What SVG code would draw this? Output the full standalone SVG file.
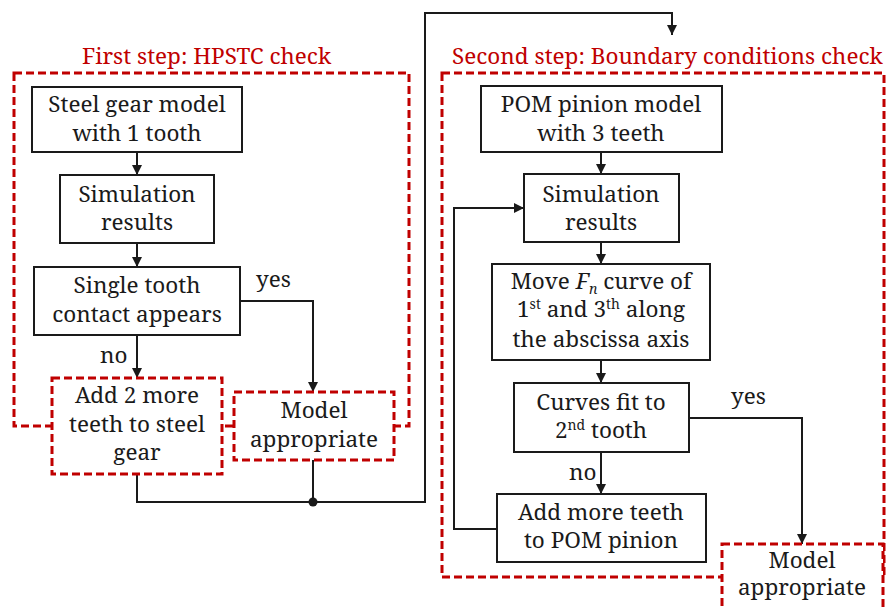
<svg xmlns="http://www.w3.org/2000/svg" width="886" height="610" viewBox="0 0 886 610" font-family="Noto Serif, Liberation Serif, serif" font-size="22.5">
<style>
text{fill:#1a1a1a;text-anchor:middle}
.title{fill:#c00000;text-anchor:start}
.lbl{text-anchor:start}
.box{fill:#fff;stroke:#1a1a1a;stroke-width:2}
.rbox{fill:#fff;stroke:#c00000;stroke-width:3;stroke-dasharray:8,4}
.frame{fill:none;stroke:#c00000;stroke-width:3;stroke-dasharray:8,4}
.ln{fill:none;stroke:#1a1a1a;stroke-width:2}
.sup{font-size:14px}
</style>
<defs>
<marker id="ah" viewBox="0 0 10 10" refX="10" refY="5" markerWidth="5" markerHeight="5" orient="auto" markerUnits="strokeWidth">
<path d="M0,0 L10,5 L0,10 z" fill="#1a1a1a"/>
</marker>
</defs>
<rect width="886" height="610" fill="#fff"/>

<g id="frames">
<rect class="frame" x="14" y="73" width="395" height="353"/>
<rect class="frame" x="442" y="73" width="442" height="504"/>
<text class="title" x="82" y="64">First step: HPSTC check</text>
<text class="title" x="452" y="64">Second step: Boundary conditions check</text>
</g>

<g id="connectors">
<path class="ln" d="M137,152 V175" marker-end="url(#ah)"/>
<path class="ln" d="M137,243 V267" marker-end="url(#ah)"/>
<path class="ln" d="M137,335 V378" marker-end="url(#ah)"/>
<path class="ln" d="M240,301 H313 V392" marker-end="url(#ah)"/>
<path class="ln" d="M137,474 V502 H425 V13 H672 V35" marker-end="url(#ah)"/>
<path class="ln" d="M313,460 V502"/>
<circle cx="313" cy="502" r="4.5" fill="#1a1a1a"/>
<path class="ln" d="M601,152 V174" marker-end="url(#ah)"/>
<path class="ln" d="M601,242 V264" marker-end="url(#ah)"/>
<path class="ln" d="M601,360 V383" marker-end="url(#ah)"/>
<path class="ln" d="M601,452 V494" marker-end="url(#ah)"/>
<path class="ln" d="M689,418 H802 V544" marker-end="url(#ah)"/>
<path class="ln" d="M497,529 H454 V208 H524" marker-end="url(#ah)"/>
<text class="lbl" x="256" y="287">yes</text>
<text class="lbl" x="100" y="363">no</text>
<text class="lbl" x="731" y="404">yes</text>
<text class="lbl" x="569" y="480">no</text>
</g>

<g id="steel-gear-model">
<rect class="box" x="32" y="87" width="210" height="65"/>
<text x="137" y="112">Steel gear model</text>
<text x="137" y="141">with 1 tooth</text>
</g>
<g id="sim-results-1">
<rect class="box" x="60" y="175" width="154" height="68"/>
<text x="137" y="202">Simulation</text>
<text x="137" y="230">results</text>
</g>
<g id="single-tooth">
<rect class="box" x="34" y="267" width="206" height="68"/>
<text x="137" y="293">Single tooth</text>
<text x="137" y="322">contact appears</text>
</g>
<g id="add-2-teeth">
<rect class="rbox" x="52" y="378" width="170" height="96"/>
<text x="137" y="403">Add 2 more</text>
<text x="137" y="432">teeth to steel</text>
<text x="137" y="460">gear</text>
</g>
<g id="model-appropriate-1">
<rect class="rbox" x="234" y="392" width="160" height="68"/>
<text x="314" y="418">Model</text>
<text x="314" y="447">appropriate</text>
</g>

<g id="pom-pinion-model">
<rect class="box" x="481" y="86" width="241" height="66"/>
<text x="601" y="112">POM pinion model</text>
<text x="601" y="141">with 3 teeth</text>
</g>
<g id="sim-results-2">
<rect class="box" x="524" y="174" width="155" height="68"/>
<text x="601" y="202">Simulation</text>
<text x="601" y="230">results</text>
</g>
<g id="move-fn-curve">
<rect class="box" x="492" y="264" width="218" height="96"/>
<text x="601" y="289">Move <tspan font-style="italic">F</tspan><tspan font-style="italic" class="sup" dy="5">n</tspan><tspan dy="-5"> curve of</tspan></text>
<text x="601" y="317">1<tspan class="sup" dy="-8">st</tspan><tspan dy="8"> and 3</tspan><tspan class="sup" dy="-8">th</tspan><tspan dy="8"> along</tspan></text>
<text x="601" y="347">the abscissa axis</text>
</g>
<g id="curves-fit">
<rect class="box" x="514" y="383" width="175" height="69"/>
<text x="601" y="410">Curves fit to</text>
<text x="601" y="438">2<tspan class="sup" dy="-8">nd</tspan><tspan dy="8"> tooth</tspan></text>
</g>
<g id="add-more-teeth">
<rect class="box" x="497" y="494" width="209" height="68"/>
<text x="601" y="520">Add more teeth</text>
<text x="601" y="548">to POM pinion</text>
</g>
<g id="model-appropriate-2">
<rect class="rbox" x="722" y="544" width="161" height="80"/>
<text x="802" y="568">Model</text>
<text x="802" y="595">appropriate</text>
</g>
</svg>
